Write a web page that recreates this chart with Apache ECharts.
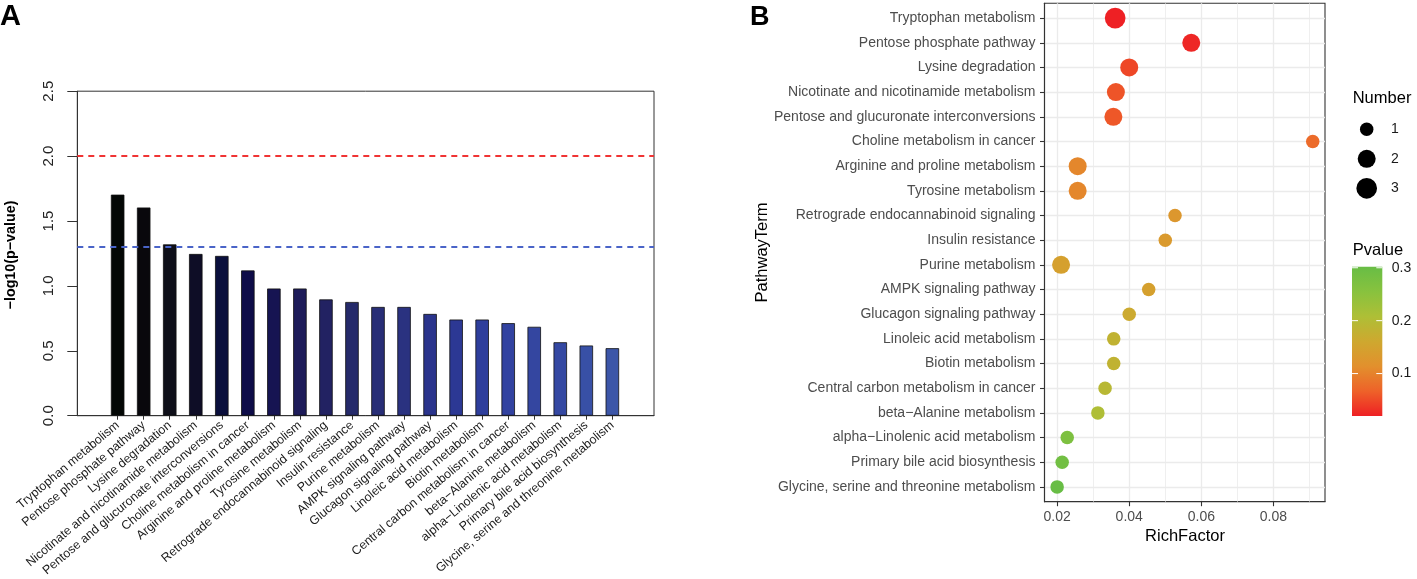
<!DOCTYPE html>
<html><head><meta charset="utf-8">
<script src="https://cdn.jsdelivr.net/npm/echarts@6/dist/echarts.min.js"></script>
<style>html,body{margin:0;padding:0;background:#fff}#c{width:1417px;height:579px}</style>
</head><body><div id="c"></div>
<script>
// ---------- data ----------
const categories = [
  'Tryptophan metabolism','Pentose phosphate pathway','Lysine degradation',
  'Nicotinate and nicotinamide metabolism','Pentose and glucuronate interconversions',
  'Choline metabolism in cancer','Arginine and proline metabolism','Tyrosine metabolism',
  'Retrograde endocannabinoid signaling','Insulin resistance','Purine metabolism',
  'AMPK signaling pathway','Glucagon signaling pathway','Linoleic acid metabolism',
  'Biotin metabolism','Central carbon metabolism in cancer','beta\u2212Alanine metabolism',
  'alpha\u2212Linolenic acid metabolism','Primary bile acid biosynthesis',
  'Glycine, serine and threonine metabolism'
];
const logP = [1.703,1.604,1.320,1.246,1.231,1.119,0.980,0.980,0.896,0.876,0.838,0.838,0.784,0.741,0.741,0.713,0.685,0.566,0.541,0.520];
const richFactor = [0.0361,0.0572,0.0400,0.0363,0.0356,0.0909,0.0257,0.0257,0.0527,0.0500,0.0211,0.0454,0.0400,0.0357,0.0357,0.0333,0.0313,0.0228,0.0214,0.0200];
const counts = [3,2,2,2,2,1,2,2,1,1,2,1,1,1,1,1,1,1,1,1];
const thresholds = [2.0, 1.301];
const richTicks = [0.02,0.04,0.06,0.08];
const richMinor = [0.03,0.05,0.07,0.09];
const pLegendTicks = [0.1,0.2,0.3];
const numberLevels = [1,2,3];

// ---------- styles ----------
const FONT = 'Liberation Sans, Arial, Helvetica, sans-serif';
const barColors = ['#030705','#09080c','#0e0f19','#0e0d26','#0a0f3c','#0e0c48','#161452','#1e1c5a','#222262','#252a6a',
  '#282e76','#2a3280','#2a348c','#2c3894','#2e3e9c','#3242a0','#3446a0','#3448a2','#3850a6','#3c56a8'];
const threshColors = ['#f03434','#4a64c8'];
const sizeMap = {1:13.5, 2:18, 3:20.7};
const gradColors = ['#ee2024','#ee6229','#e2902d','#cea82f','#aebf36','#88c23e','#68bd45'];

const pvals = logP.map(v => Math.pow(10, -v));
const pMin = Math.min(...pvals), pMax = Math.max(...pvals);
const idx = categories.map((_, i) => i);

const chart = echarts.init(document.getElementById('c'), null, {renderer:'canvas'});

// legend geometry
const cbX = 1352, cbY = 266.7, cbW = 30.3, cbH = 149.3;
const graphics = [
  {type:'text', left:0, top:2, style:{text:'A', font:'bold 29px '+FONT, fill:'#000'}},
  {type:'text', left:750, top:4, style:{text:'B', font:'bold 27px '+FONT, fill:'#000'}},
  {type:'text', x:11.5, y:255, rotation:Math.PI/2, style:{text:'\u2212log10(p\u2212value)', font:'bold 14.3px '+FONT, fill:'#000', align:'center', verticalAlign:'middle'}},
  {type:'text', x:762.8, y:252.5, rotation:Math.PI/2, style:{text:'PathwayTerm', font:'16.5px '+FONT, fill:'#000', align:'center', verticalAlign:'middle'}},
  {type:'text', x:1185, y:536, style:{text:'RichFactor', font:'16.5px '+FONT, fill:'#000', align:'center', verticalAlign:'middle'}},
  {type:'text', x:1352.7, y:98, style:{text:'Number', font:'16.5px '+FONT, fill:'#000', align:'left', verticalAlign:'middle'}},
  {type:'text', x:1352.7, y:250.7, style:{text:'Pvalue', font:'16.5px '+FONT, fill:'#000', align:'left', verticalAlign:'middle'}},
  {type:'rect', shape:{x:cbX, y:cbY, width:cbW, height:cbH}, style:{fill:{type:'linear', x:0, y:1, x2:0, y2:0,
     colorStops: gradColors.map((c,i)=>({offset:i/(gradColors.length-1), color:c}))}}}
];
numberLevels.forEach((n, k) => {
  const y = 129.3 + k * 29.5;
  graphics.push({type:'circle', shape:{cx:1366.7, cy:y, r:sizeMap[n]/2}, style:{fill:'#000'}});
  graphics.push({type:'text', x:1395, y:y, style:{text:String(n), font:'14px '+FONT, fill:'#1a1a1a', align:'center', verticalAlign:'middle'}});
});
pLegendTicks.forEach(p => {
  const y = cbY + cbH - (p - pMin) / (pMax - pMin) * cbH;
  graphics.push({type:'line', shape:{x1:cbX, y1:y, x2:cbX+6, y2:y}, style:{stroke:'#fff', lineWidth:1}});
  graphics.push({type:'line', shape:{x1:cbX+cbW-6, y1:y, x2:cbX+cbW, y2:y}, style:{stroke:'#fff', lineWidth:1}});
  graphics.push({type:'text', x:1391.7, y:y, style:{text:p.toFixed(1), font:'14px '+FONT, fill:'#1a1a1a', align:'left', verticalAlign:'middle'}});
});

const option = {
  backgroundColor:'#fff',
  animation:false,
  textStyle:{fontFamily:FONT},
  grid:[
    {left:77.3, top:91.2, width:576.7, height:327.9, show:true, borderColor:'#333', borderWidth:1, backgroundColor:'transparent', containLabel:false},
    {left:1044.5, top:3.3, width:280.5, height:498.4, show:true, borderColor:'#333', borderWidth:1.1, backgroundColor:'#fff', containLabel:false}
  ],
  xAxis:[
    {type:'value', gridIndex:0, min:-1.55, max:20.6,
     axisLine:{show:true, onZero:false, lineStyle:{color:'#333', width:1}},
     axisTick:{show:true, length:4, lineStyle:{color:'#333'}, customValues:idx},
     axisLabel:{show:true, customValues:idx, rotate:40, margin:8, fontSize:12.4, color:'#1a1a1a', fontFamily:FONT,
                formatter:(v)=>categories[Math.round(v)]},
     splitLine:{show:false}},
    {type:'value', gridIndex:1, min:0.0165, max:0.0943,
     axisLine:{show:true, onZero:false, lineStyle:{color:'#333', width:1.1}},
     axisTick:{show:true, length:4.5, lineStyle:{color:'#333', width:1.1}, customValues:richTicks},
     axisLabel:{show:true, customValues:richTicks, margin:8, fontSize:14, color:'#4d4d4d', fontFamily:FONT,
                formatter:(v)=>v.toFixed(2)},
     splitLine:{show:true, lineStyle:{color:'#ebebeb', width:1.3}}}
  ],
  yAxis:[
    {type:'value', gridIndex:0, min:0, max:2.5, interval:0.5,
     axisLine:{show:true, onZero:false, lineStyle:{color:'#333', width:1}},
     axisTick:{show:true, length:10, lineStyle:{color:'#333'}},
     axisLabel:{show:true, rotate:90, margin:21, fontSize:15, color:'#222', fontFamily:FONT, formatter:(v)=>v.toFixed(1)},
     splitLine:{show:false}},
    {type:'value', gridIndex:1, inverse:true, min:-0.6, max:19.6,
     axisLine:{show:true, onZero:false, lineStyle:{color:'#333', width:1.1}},
     axisTick:{show:true, length:4.5, lineStyle:{color:'#333', width:1.1}, customValues:idx},
     axisLabel:{show:true, customValues:idx, margin:9, fontSize:14, color:'#4d4d4d', fontFamily:FONT,
                formatter:(v)=>categories[Math.round(v)]},
     splitLine:{show:true, lineStyle:{color:'#ebebeb', width:1.3}}}
  ],
  visualMap:[{type:'continuous', show:false, seriesIndex:2, dimension:3, min:pMin, max:pMax, inRange:{color:gradColors}}],
  graphic: graphics,
  series:[
    {type:'bar', xAxisIndex:0, yAxisIndex:0, barWidth:13.5,
     data: logP.map((v,i)=>({value:[i,v], itemStyle:{color:barColors[i]}})),
     itemStyle:{borderColor:'#111', borderWidth:0.8},
     markLine:{silent:true, symbol:['none','none'], label:{show:false},
       data: thresholds.map((t,k)=>({yAxis:t, lineStyle:{color:threshColors[k], type:[6,5], width:2}}))}},
    {type:'scatter', xAxisIndex:1, yAxisIndex:1, data:[], z:1,
     markLine:{silent:true, z:1, symbol:['none','none'], label:{show:false},
       lineStyle:{color:'#ebebeb', type:'solid', width:0.8},
       data: richMinor.map(x=>({xAxis:x}))}},
    {type:'scatter', xAxisIndex:1, yAxisIndex:1, z:3,
     data: categories.map((c,i)=>[richFactor[i], i, counts[i], pvals[i]]),
     symbolSize:(d)=>sizeMap[d[2]],
     itemStyle:{opacity:1}}
  ]
};
chart.setOption(option);
</script></body></html>
